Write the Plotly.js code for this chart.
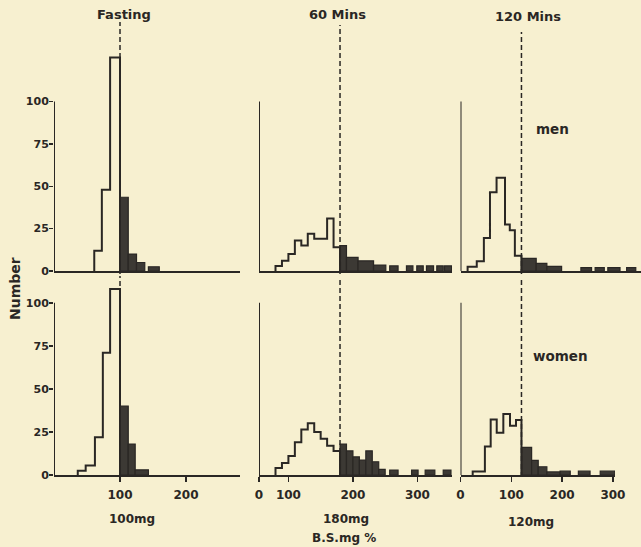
<!DOCTYPE html>
<html><head><meta charset="utf-8">
<script src="https://cdn.plot.ly/plotly-3.0.1.min.js"></script>
<style>html,body{margin:0;padding:0;background:#f7f0d0;} #chart{width:641px;height:547px;}</style>
</head><body><div id="chart"></div>
<script>
// ---- text ----
const panelTitles = ['Fasting', '60 Mins', '120 Mins'];
const groupLabels = ['men', 'women'];
const thresholdLabels = ['100mg', '180mg', '120mg'];
const xAxisTitle = 'B.S.mg %';
const yAxisTitle = 'Number';

// ---- thresholds (mg %) per column ----
const thresholds = [100, 180, 120];

// ---- ticks ----
const yTickVals = [0, 25, 50, 75, 100];
const xTickVals = [0, 100, 200, 300];

// ---- histograms: bin edges (mg %) and counts ----
const fastingMenEdges  = [61, 72.5, 85, 100, 112.5, 125, 137.5, 143, 159.5];
const fastingMenCounts = [12, 48, 126, 43.5, 10, 5, 0, 2.5];

const mins60MenEdges  = [80, 90, 100, 110, 120, 130, 140, 160, 170, 180, 190, 208, 232, 251, 257, 270, 283, 293, 299, 309, 314, 325, 330, 340, 342, 353];
const mins60MenCounts = [3, 6, 10, 18, 15, 22, 19, 31, 14, 15, 8, 6, 3.5, 0, 3, 0, 3, 0, 3, 0, 3, 0, 3, 0, 3];

const mins120MenEdges  = [14, 32, 46, 58, 71, 87.6, 97, 107, 120, 149, 170, 199, 237, 258, 265, 283, 290, 314, 327, 345];
const mins120MenCounts = [2.5, 5.8, 19.5, 46.5, 55, 27.5, 24, 9, 7.5, 4.5, 2.7, 0, 2, 0, 2, 0, 2, 0, 2];

const fastingWomenEdges  = [36, 48, 62, 74, 85, 100, 112.5, 123, 143];
const fastingWomenCounts = [2.5, 5.5, 22, 71, 108, 40, 18, 3];

const mins60WomenEdges  = [80, 90, 100, 110, 120, 130, 140, 150, 160, 170, 180, 190, 200, 210, 220, 230, 240, 250, 257, 270, 291, 301, 312, 327, 340, 352];
const mins60WomenCounts = [4, 7, 11, 19, 26.5, 30, 25, 21, 17, 14, 18, 14, 10.5, 8.7, 14, 7.7, 3.3, 0, 2.9, 0, 2.9, 0, 2.9, 0, 2.9];

const mins120WomenEdges  = [24, 48, 59.4, 71.3, 84.3, 97.4, 109.3, 120, 140, 153, 170, 196, 216, 232, 255, 275, 304];
const mins120WomenCounts = [2, 16.5, 32.3, 24.6, 35.4, 28.6, 31.9, 16, 8.5, 4.8, 1.8, 2.2, 0, 2.2, 0, 2.2];

// ---- layout geometry (pixels of a 641x547 page) ----
const W = 641, H = 547;
const px = v => v / W;
const py = v => 1 - v / H;

const ink = '#2a2724';
const barFill = '#3c3934';
const bg = '#f7f0d0';
const fontFam = '"DejaVu Sans", sans-serif';

const panels = [
  {edges: fastingMenEdges,   counts: fastingMenCounts,   col: 0, row: 0, dom: [54, 240],   range: [0, 281.8],   yd: [271, 22],  yr: [0, 146.9], dash: [22, 274]},
  {edges: mins60MenEdges,    counts: mins60MenCounts,    col: 1, row: 0, dom: [259, 452],  range: [54.4, 353.6], yd: [271, 22], yr: [0, 146.9], dash: [25, 274]},
  {edges: mins120MenEdges,   counts: mins120MenCounts,   col: 2, row: 0, dom: [460.5, 641], range: [0, 355.3], yd: [271, 22],  yr: [0, 146.9], dash: [32, 274]},
  {edges: fastingWomenEdges, counts: fastingWomenCounts, col: 0, row: 1, dom: [54, 240],   range: [0, 281.8],   yd: [475, 276], yr: [0, 115.6], dash: [276, 478]},
  {edges: mins60WomenEdges,  counts: mins60WomenCounts,  col: 1, row: 1, dom: [259, 452],  range: [54.4, 353.6], yd: [475, 276], yr: [0, 115.6], dash: [277, 477]},
  {edges: mins120WomenEdges, counts: mins120WomenCounts, col: 2, row: 1, dom: [460.5, 615], range: [0, 304.1], yd: [475, 276], yr: [0, 115.6], dash: [278, 477]},
];

const traces = [];
const shapes = [];
const layout = {
  width: W, height: H,
  margin: {l: 0, r: 0, t: 0, b: 0},
  paper_bgcolor: bg, plot_bgcolor: bg,
  showlegend: false,
  barmode: 'overlay',
  font: {family: fontFam, color: ink, size: 12, weight: 'bold'},
  annotations: []
};

panels.forEach((p, i) => {
  const n = i + 1;
  const xa = n === 1 ? 'x' : 'x' + n;
  const ya = n === 1 ? 'y' : 'y' + n;
  const thr = thresholds[p.col];

  // white part: step outline
  const xs = [], ys = [];
  let last = -1;
  for (let k = 0; k < p.counts.length; k++) {
    if (p.edges[k + 1] > thr + 1e-6) break;
    if (last < 0) { xs.push(p.edges[k]); ys.push(0); }
    xs.push(p.edges[k]); ys.push(p.counts[k]);
    last = k;
  }
  xs.push(p.edges[last + 1]); ys.push(p.counts[last]);
  xs.push(p.edges[last + 1]); ys.push(0);
  traces.push({type: 'scatter', mode: 'lines', x: xs, y: ys, xaxis: xa, yaxis: ya,
    line: {shape: 'hv', color: ink, width: 2}, hoverinfo: 'skip'});

  // dark part: filled bars above threshold
  const bx = [], bw = [], bh = [];
  for (let k = 0; k < p.counts.length; k++) {
    if (p.edges[k] >= thr - 1e-6 && p.counts[k] > 0) {
      bx.push((p.edges[k] + p.edges[k + 1]) / 2);
      bw.push(p.edges[k + 1] - p.edges[k]);
      bh.push(p.counts[k]);
    }
  }
  traces.push({type: 'bar', x: bx, y: bh, width: bw, xaxis: xa, yaxis: ya,
    marker: {color: barFill, line: {color: ink, width: 1.2}}, hoverinfo: 'skip'});

  // axes
  const bottom = p.row === 1;
  let tv = [], tt = [];
  if (bottom) {
    xTickVals.forEach(v => {
      if (p.col === 0 && v === 0) return;
      if (v > p.range[1]) return;
      tv.push(Math.max(v, p.range[0]));
      tt.push(String(v));
    });
  }
  layout['xaxis' + (n === 1 ? '' : n)] = {
    domain: [px(p.dom[0]), px(p.dom[1])], range: p.range, anchor: ya,
    showgrid: false, zeroline: false, showline: true, linecolor: ink, linewidth: 2,
    tickvals: tv, ticktext: tt, ticks: bottom ? 'outside' : '', ticklen: 5, tickwidth: 1.5, tickcolor: ink,
    showticklabels: bottom, ticklabelstandoff: 3,
    tickfont: {family: fontFam, size: 12, color: ink, weight: 'bold'}
  };
  const left = p.col === 0;
  layout['yaxis' + (n === 1 ? '' : n)] = {
    domain: [py(p.yd[0]), py(p.yd[1])], range: p.yr, anchor: xa,
    showgrid: false, zeroline: false, showline: false,
    tickvals: left ? yTickVals : [], ticks: left ? 'outside' : '', ticklen: 4, tickwidth: 1.5, tickcolor: ink,
    showticklabels: left, ticklabelstandoff: -2,
    tickfont: {family: fontFam, size: 11, color: ink, weight: 'bold'}
  };

  // y axis line from 0 to 100
  shapes.push({type: 'line', xref: xa, yref: ya, x0: p.range[0], x1: p.range[0],
    y0: 0, y1: Math.max(...yTickVals), line: {color: ink, width: 2}});
  // dashed threshold line
  shapes.push({type: 'line', xref: xa, yref: 'paper', x0: thr, x1: thr,
    y0: py(p.dash[1]), y1: py(p.dash[0]), line: {color: ink, width: 1.5, dash: '5px,3px'}});
});

layout.shapes = shapes;

const ann = (text, x, y, size, extra) => Object.assign({
  text, x: px(x), y: py(y), xref: 'paper', yref: 'paper', showarrow: false,
  xanchor: 'center', yanchor: 'middle',
  font: {family: fontFam, size, color: ink, weight: 'bold'}
}, extra || {});

layout.annotations.push(ann(panelTitles[0], 123.5, 15, 13));
layout.annotations.push(ann(panelTitles[1], 338, 15, 13));
layout.annotations.push(ann(panelTitles[2], 528, 17, 13));
layout.annotations.push(ann(groupLabels[0], 552, 129, 13.5));
layout.annotations.push(ann(groupLabels[1], 560, 356, 13.5));
layout.annotations.push(ann(thresholdLabels[0], 131.5, 519, 12));
layout.annotations.push(ann(thresholdLabels[1], 346, 519, 12));
layout.annotations.push(ann(thresholdLabels[2], 531, 522, 12));
layout.annotations.push(ann(xAxisTitle, 344, 538, 12));
layout.annotations.push(ann(yAxisTitle, 15, 289, 14, {textangle: -90}));

Plotly.newPlot('chart', traces, layout, {staticPlot: true, displayModeBar: false});
</script>
</body></html>
